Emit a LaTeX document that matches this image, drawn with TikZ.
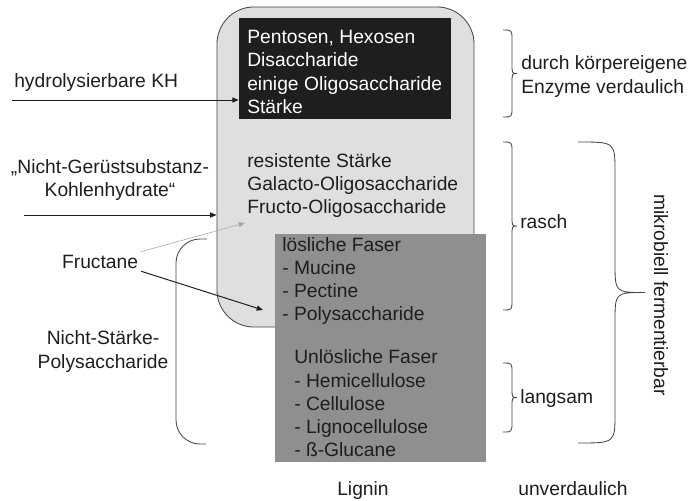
\documentclass[tikz,border=0pt]{standalone}
\usepackage{fontspec}
\setmainfont{Liberation Sans}
\usetikzlibrary{arrows.meta, positioning}

\definecolor{boxgray}{HTML}{DFDFE1}
\definecolor{fibgray}{HTML}{8F8F91}
\definecolor{ink}{HTML}{1E1E1E}
\definecolor{edge}{HTML}{454545}

% right-hand curly brace: x of ends, top, bottom, bend offset, tip offset, curve length
\newcommand{\sidebrace}[6]{%
  \draw[brc] (#1,#2) .. controls ({#1+#4},#2) .. ({#1+#4},{#2+#6})
    -- ({#1+#4},{(#2+#3)/2-#6})
    .. controls ({#1+#4},{(#2+#3)/2}) .. ({#1+#5},{(#2+#3)/2})
    .. controls ({#1+#4},{(#2+#3)/2}) .. ({#1+#4},{(#2+#3)/2+#6})
    -- ({#1+#4},{#3-#6})
    .. controls ({#1+#4},#3) .. (#1,#3);}

\begin{document}
\begin{tikzpicture}[
  x=0.025cm, y=-0.025cm,
  every node/.style={font=\fontsize{13.7}{16.5}\selectfont, text=ink, inner sep=0pt},
  txt/.style={align=left, anchor=west},
  ctr/.style={align=center, anchor=center},
  digbox/.style={draw=edge, line width=0.6pt, fill=boxgray, rounded corners=0.925cm,
                 minimum width=6.425cm, minimum height=8cm},
  enzbox/.style={fill=ink, minimum width=5.3cm, minimum height=2.525cm},
  fibbox/.style={fill=fibgray, minimum width=5.275cm, minimum height=5.7cm},
  arr/.style={-{Triangle[length=4.5pt, width=3.6pt]}, line width=0.7pt, draw=ink},
  brc/.style={line width=0.6pt, draw=edge},
]
\useasboundingbox (0,0) rectangle (696,500);

% --- central boxes
\node[digbox] (light) at (345.5,167) {};
\node[enzbox] (enzym) at (345,68.5) {};
\node[txt, text=white] (enzymtxt) at (247,72)
  {Pentosen, Hexosen\\Disaccharide\\einige Oligosaccharide\\Stärke};
\node[txt] (resist) at (247,185.5)
  {resistente Stärke\\Galacto-Oligosaccharide\\Fructo-Oligosaccharide};
\node[fibbox] (faser) at (380.5,348) {};
\node[txt] (loesl) at (282,281)
  {lösliche Faser\\- Mucine\\- Pectine\\- Polysaccharide};
\node[txt] (unloesl) at (294,403.5)
  {Unlösliche Faser\\- Hemicellulose\\- Cellulose\\- Lignocellulose\\- ß-Glucane};

% --- left labels and arrows
\node[anchor=base west] (hydro) at (14,87) {hydrolysierbare KH};
\coordinate (hstart) at (12,100);
\draw[arr] (hstart) -- (hstart -| enzym.west);

\node[ctr] (ngs) at (110,180) {„Nicht-Gerüstsubstanz-\\Kohlenhydrate“};
\coordinate (nstart) at (24,215);
\draw[arr] (nstart) -- (nstart -| light.west);

\node[anchor=base west, inner sep=2pt] (fruct) at (59,268) {Fructane};
\coordinate (froligo) at (245,223);
\coordinate (polys) at (263,310);
\draw[arr, draw=gray!70, line width=0.4pt] (fruct.north east) -- (froligo);
\draw[arr] (fruct.south east) -- (polys);

\node[ctr] (nsp) at (103,351.5) {Nicht-Stärke-\\Polysaccharide};
\draw[brc, rounded corners=0.6cm] (207,239) -- (176,239) -- (176,444) -- (206,444);

% --- right braces
\sidebrace{503}{30}{117}{9}{14}{10}
\node[txt] (durch) at (521,76.5) {durch körpereigene\\Enzyme verdaulich};

\sidebrace{503}{142}{310}{9}{14}{10}
\node[anchor=base west] (rasch) at (520,228) {rasch};

\sidebrace{503}{363}{432}{9}{14}{10}
\node[anchor=base west] (langsam) at (520,403) {langsam};

\sidebrace{578}{142}{443}{37}{67}{30}
\node[rotate=-90] (mikro) at (661,295) {mikrobiell fermentierbar};

% --- bottom row
\node[anchor=base west] (lignin) at (337,495) {Lignin};
\node[anchor=base west] (unverd) at (518,495) {unverdaulich};
\end{tikzpicture}
\end{document}
